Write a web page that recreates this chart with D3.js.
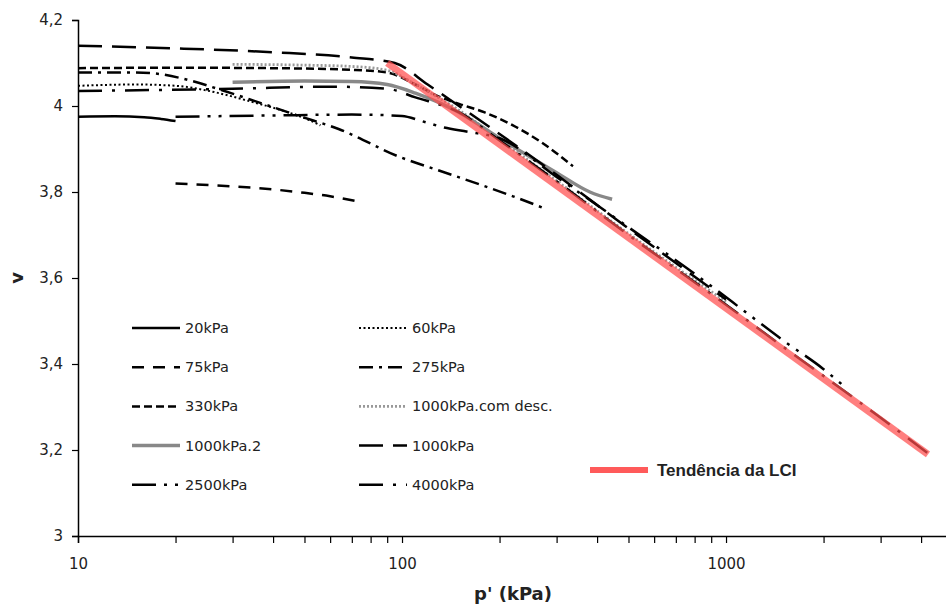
<!DOCTYPE html>
<html>
<head>
    <meta charset="utf-8">
    <script src="https://d3js.org/d3.v7.min.js"></script>
    <style>
        body { margin: 0; background: #fff; }
        text { font-family: "DejaVu Sans", Verdana, sans-serif; fill: #222; }
    </style>
</head>
<body>
	<svg id="chart" width="946" height="607"></svg>
	<script>
		// p' (kPa) and v, one array per test
		var s20 = [[10,3.975],[13,3.976],[16,3.974],[18,3.970],[20,3.965]];
		var s60 = [[10,4.047],[15,4.050],[20,4.047],[25,4.036],[30,4.022],[35,4.008],[40,3.996],[45,3.984],[50,3.972],[56,3.955]];
		var s75 = [[20,3.820],[30,3.813],[40,3.806],[50,3.798],[60,3.790],[72,3.779]];
		var s275 = [[10,4.078],[15,4.078],[18,4.074],[22,4.060],[28,4.036],[35,4.012],[48,3.977],[64,3.946],[98,3.882],[130,3.850],[170,3.820],[220,3.790],[275,3.762]];
		var s330 = [[10,4.088],[20,4.089],[40,4.088],[70,4.084],[90,4.078],[110,4.050],[130,4.022],[150,4.005],[180,3.985],[220,3.955],[270,3.915],[337,3.860]];
		var s1000desc = [[30,4.097],[50,4.095],[70,4.092],[90,4.083],[110,4.050],[150,3.990],[200,3.922],[300,3.826],[450,3.728],[650,3.642],[1000,3.545]];
		var s1000b = [[30,4.055],[50,4.058],[70,4.057],[90,4.050],[110,4.030],[150,3.985],[200,3.925],[300,3.845],[380,3.800],[445,3.783]];
		var s1000 = [[10,4.140],[20,4.134],[40,4.125],[70,4.113],[95,4.100],[120,4.050],[150,4.000],[200,3.935],[300,3.840],[500,3.715],[700,3.635],[1000,3.550]];
		var s2500 = [[20,3.975],[40,3.978],[70,3.980],[100,3.977],[115,3.965],[135,3.950],[160,3.940],[200,3.925],[300,3.835],[500,3.718],[800,3.610],[1200,3.510],[1500,3.455],[2000,3.388],[2300,3.350]];
		var s4000 = [[10,4.035],[30,4.040],[60,4.045],[90,4.040],[110,4.020],[150,3.985],[200,3.920],[300,3.825],[500,3.700],[1000,3.538],[1500,3.440],[2000,3.372],[3000,3.275],[4200,3.192]];
		var lci = [[90,4.10],[4200,3.19]];

		var names = ["20kPa","60kPa","75kPa","275kPa","330kPa","1000kPa.com desc.","1000kPa.2","1000kPa","2500kPa","4000kPa"];
		var series = [s20, s60, s75, s275, s330, s1000desc, s1000b, s1000, s2500, s4000];
		var yTicks = [3, 3.2, 3.4, 3.6, 3.8, 4, 4.2];
		var xTicks = [10, 100, 1000];

		// line look for each test, same order as names
		var styles = [
			{color: "#000", width: 2.5, dash: null},
			{color: "#000", width: 2, dash: "2,2.5"},
			{color: "#000", width: 2.5, dash: "12,9"},
			{color: "#000", width: 2.5, dash: "14,6,3,6"},
			{color: "#000", width: 2.5, dash: "8,4"},
			{color: "#999", width: 2.8, dash: "2,2"},
			{color: "#888", width: 3.5, dash: null},
			{color: "#000", width: 2.5, dash: "24,10"},
			{color: "#000", width: 2.5, dash: "24,8,3,8,3,8"},
			{color: "#000", width: 2.5, dash: "24,10,3,10"}
		];

		var svg = d3.select("#chart");

		var x = d3.scaleLog().domain([10, 5000]).range([78, 952.5]);
		var y = d3.scaleLinear().domain([3, 4.2]).range([536, 20]);

		var comma = function(d) { return String(d).replace(".", ","); };

		// y axis
		svg.append("g")
			.attr("transform", "translate(78,0)")
			.call(d3.axisLeft(y).tickValues(yTicks).tickSize(6).tickPadding(9).tickFormat(comma))
			.call(function(g) {
				g.select(".domain").attr("stroke", "#000").attr("stroke-width", 1.5);
				g.selectAll(".tick line").attr("stroke", "#000").attr("stroke-width", 1.2);
				g.selectAll("text").style("font-size", "15px").style("font-family", "DejaVu Sans").attr("fill", "#333");
			});

		// x axis: minor ticks, then labelled decades
		var minor = [];
		[10, 100, 1000].forEach(function(dec) {
			for (var k = 2; k <= 9; k++) if (dec * k <= 5000) minor.push(dec * k);
		});
		svg.append("g")
			.attr("transform", "translate(0,536)")
			.call(d3.axisBottom(x).tickValues(minor).tickSize(7).tickFormat(""))
			.call(function(g) {
				g.select(".domain").attr("stroke", "#000").attr("stroke-width", 1.5);
				g.selectAll(".tick line").attr("stroke", "#000").attr("stroke-width", 1.2);
			});
		svg.append("g")
			.attr("transform", "translate(0,536)")
			.call(d3.axisBottom(x).tickValues(xTicks).tickSize(7).tickPadding(15).tickFormat(d3.format("d")))
			.call(function(g) {
				g.select(".domain").remove();
				g.selectAll(".tick line").attr("stroke", "#000").attr("stroke-width", 1.2);
				g.selectAll("text").style("font-size", "15px").style("font-family", "DejaVu Sans").attr("fill", "#333");
			});

		// axis titles
		svg.append("text")
			.attr("x", 513).attr("y", 600)
			.attr("text-anchor", "middle")
			.style("font-size", "18px").style("font-weight", "bold")
			.text("p' (kPa)");
		svg.append("text")
			.attr("transform", "translate(23,278) rotate(-90)")
			.attr("text-anchor", "middle")
			.style("font-size", "18px").style("font-weight", "bold")
			.text("v");

		var line = d3.line()
			.x(function(d) { return x(d[0]); })
			.y(function(d) { return y(d[1]); })
			.curve(d3.curveMonotoneX);

		// test curves
		svg.append("g").selectAll("path")
			.data(series)
			.enter()
			.append("path")
			.attr("fill", "none")
			.attr("d", line)
			.attr("stroke", function(d, i) { return styles[i].color; })
			.attr("stroke-width", function(d, i) { return styles[i].width; })
			.attr("stroke-dasharray", function(d, i) { return styles[i].dash; });

		// LCI trend on top, semi transparent
		svg.append("path")
			.datum(lci)
			.attr("fill", "none")
			.attr("stroke", "#ff4d4d")
			.attr("stroke-opacity", 0.72)
			.attr("stroke-width", 7)
			.attr("d", d3.line().x(function(d) { return x(d[0]); }).y(function(d) { return y(d[1]); }));

		// legend, two columns
		var leg = svg.append("g").selectAll("g")
			.data(names)
			.enter()
			.append("g")
			.attr("transform", function(d, i) {
				return "translate(" + (i % 2 == 0 ? 132 : 359) + "," + (328 + Math.floor(i / 2) * 39.2) + ")";
			});
		leg.append("line")
			.attr("x1", 0).attr("x2", 48)
			.attr("stroke", function(d, i) { return styles[i].color; })
			.attr("stroke-width", function(d, i) { return styles[i].width; })
			.attr("stroke-dasharray", function(d, i) { return styles[i].dash; });
		leg.append("text")
			.attr("x", 53).attr("dy", "0.35em")
			.style("font-size", "14.5px")
			.attr("fill", "#333")
			.text(function(d) { return d; });

		svg.append("line")
			.attr("x1", 590).attr("x2", 648).attr("y1", 470).attr("y2", 470)
			.attr("stroke", "#ff5a5a").attr("stroke-width", 6);
		svg.append("text")
			.attr("x", 657).attr("y", 470).attr("dy", "0.35em")
			.style("font-family", "Liberation Sans, Arial, sans-serif")
			.style("font-size", "17px").style("font-weight", "bold")
			.text("Tendência da LCI");
	</script>
</body>
</html>
